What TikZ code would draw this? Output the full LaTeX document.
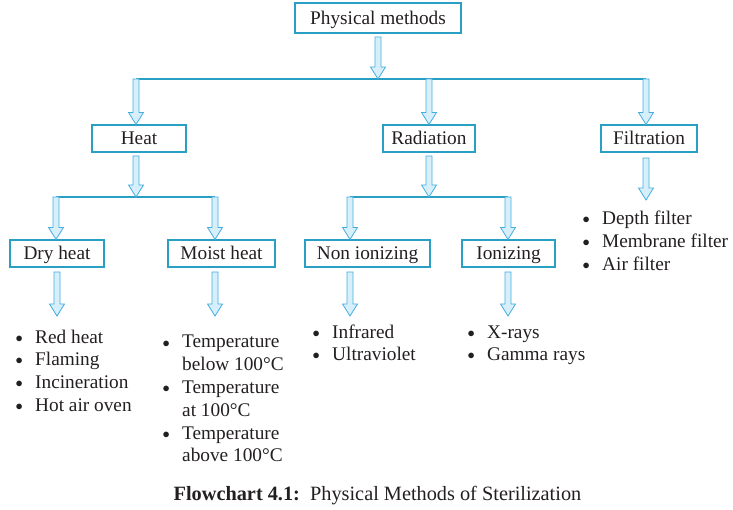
\documentclass[tikz,border=0pt]{standalone}
\usepackage{fontspec}
\setmainfont{Liberation Serif}
\usetikzlibrary{calc}
\definecolor{boxc}{HTML}{2A9FC4}
\definecolor{arrc}{HTML}{45AEE0}
\definecolor{arrf}{HTML}{D6EFFA}
\definecolor{txt}{HTML}{231F20}
\newcommand\harrow[2]{%
  \filldraw[arr] ($(#1)+(-3,0)$) -- ($(#1|-#2)+(-3,-12)$) -- ($(#1|-#2)+(-7.5,-12)$) -- (#1|-#2)
  -- ($(#1|-#2)+(7.5,-12)$) -- ($(#1|-#2)+(3,-12)$) -- ($(#1)+(3,0)$) -- cycle;}
\newcommand\bul{\makebox[32pt]{\raisebox{1pt}{$\scriptstyle\bullet$}}}
\begin{document}
\begin{tikzpicture}[x=1pt,y=-1pt,
  every node/.style={text=txt,font=\fontsize{19.3}{22.8}\selectfont},
  box/.style={draw=boxc,line width=1.1pt,inner sep=0pt,minimum height=27pt,text height=13pt,text depth=0pt},
  arr/.style={draw=arrc,fill=arrf,line width=0.8pt,line join=miter},
  hline/.style={draw=boxc,line width=1.1pt},
  lst/.style={anchor=base west,inner sep=0pt}]
\useasboundingbox (0,0) rectangle (733,510);
% boxes
\node[box,minimum width=166pt,minimum height=30pt] (pm) at (378,18) {Physical methods};
\node[box,minimum width=94pt] (heat) at (139,138.5) {Heat};
\node[box,minimum width=92pt] (rad) at (429,138.5) {Radiation};
\node[box,minimum width=96pt] (fil) at (649,138.5) {Filtration};
\node[box,minimum width=94pt] (dry) at (57,253.5) {Dry heat};
\node[box,minimum width=107pt] (moist) at (221.5,253.5) {Moist heat};
\node[box,minimum width=125pt] (non) at (367.5,253.5) {Non ionizing};
\node[box,minimum width=93pt] (ion) at (508.5,253.5) {Ionizing};
% coordinates
\coordinate (pmS) at (378,37);
\coordinate (pmT) at (378,79);
\coordinate (b1L) at (136,79);
\coordinate (b1M) at (429,79);
\coordinate (b1R) at (646,79);
\coordinate (heatS) at (136,156);
\coordinate (radS) at (429,156);
\coordinate (filS) at (646,158);
\coordinate (filT) at (646,200);
\coordinate (h2L) at (56,197);
\coordinate (h2R) at (215,197);
\coordinate (r2L) at (350,197);
\coordinate (r2R) at (508,197);
\coordinate (dryS) at (57,272);
\coordinate (moistS) at (215,272);
\coordinate (nonS) at (350,272);
\coordinate (ionS) at (508,272);
% lines
\draw[hline] (b1L) -- (b1R);
\draw[hline] (h2L) -- (h2R);
\draw[hline] (r2L) -- (r2R);
% arrows
\harrow{pmS}{pmT}
\harrow{b1L}{heat.north}
\harrow{b1M}{rad.north}
\harrow{b1R}{fil.north}
\harrow{heatS}{h2L}
\harrow{radS}{r2L}
\harrow{filS}{filT}
\harrow{h2L}{dry.north}
\harrow{h2R}{moist.north}
\harrow{r2L}{non.north}
\harrow{r2R}{ion.north}
\coordinate (lt) at (0,316);
\harrow{dryS}{lt}
\harrow{moistS}{lt}
\harrow{nonS}{lt}
\harrow{ionS}{lt}
% lists
\node[lst] (l1) at (3,343) {\begin{tabular}[t]{@{}l@{}l@{}}\bul&Red heat\\\bul&Flaming\\\bul&Incineration\\\bul&Hot air oven\end{tabular}};
\node[lst] (l2) at (150,348) {\begin{tabular}[t]{@{}l@{}l@{}}\bul&Temperature\\&below 100°C\\\bul&Temperature\\&at 100°C\\\bul&Temperature\\&above 100°C\end{tabular}};
\node[lst] (l3) at (300,338) {\begin{tabular}[t]{@{}l@{}l@{}}\bul&Infrared\\\bul&Ultraviolet\end{tabular}};
\node[lst] (l4) at (455,338) {\begin{tabular}[t]{@{}l@{}l@{}}\bul&X-rays\\\bul&Gamma rays\end{tabular}};
\node[lst] (l5) at (570,225) {\begin{tabular}[t]{@{}l@{}l@{}}\bul&Depth filter\\\bul&Membrane filter\\\bul&Air filter\end{tabular}};
% caption
\node[font=\fontsize{20.3}{24}\selectfont] (cap) at (377.5,496) {\textbf{Flowchart 4.1:}\ \ Physical Methods of Sterilization};
\end{tikzpicture}
\end{document}
